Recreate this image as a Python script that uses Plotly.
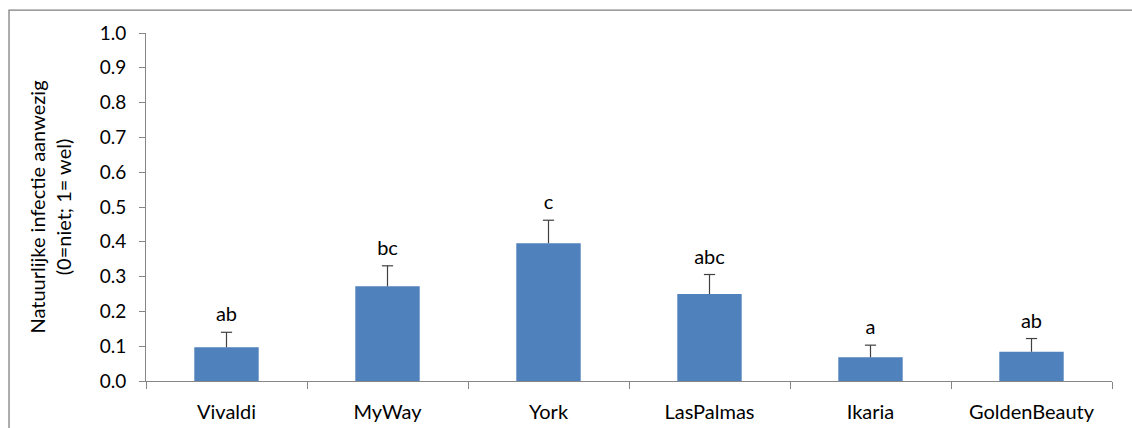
import plotly.graph_objects as go

# Cultivars, mean infection score and standard error, significance letters
cultivars = ["Vivaldi", "MyWay", "York", "LasPalmas", "Ikaria", "GoldenBeauty"]
mean_infection = [0.097, 0.272, 0.396, 0.250, 0.068, 0.084]
std_error = [0.043, 0.059, 0.066, 0.056, 0.035, 0.038]
letters = ["ab", "bc", "c", "abc", "a", "ab"]

FONT = "Lato"
AXIS_GREY = "#868686"
ERR_COLOR = "#404040"

upper = [m + s for m, s in zip(mean_infection, std_error)]

fig = go.Figure()
fig.add_trace(go.Bar(
    x=cultivars,
    y=mean_infection,
    width=0.4,
    marker=dict(color="#4F81BD", line=dict(width=0)),
    hoverinfo="skip",
))

# Upper-only error bars: vertical stem from the bar top plus a cap
stem_x, stem_y = [], []
for c, m, u in zip(cultivars, mean_infection, upper):
    stem_x += [c, c, None]
    stem_y += [m, u, None]
fig.add_trace(go.Scatter(
    x=stem_x, y=stem_y, mode="lines",
    line=dict(color=ERR_COLOR, width=1.2),
    hoverinfo="skip",
))
fig.add_trace(go.Scatter(
    x=cultivars, y=upper, mode="markers+text",
    marker=dict(symbol="line-ew", size=8, line=dict(color=ERR_COLOR, width=1.2)),
    text=letters, textposition="top center",
    textfont=dict(family=FONT, size=20, color="#000000"),
    hoverinfo="skip",
))

# Outer chart frame
fig.add_shape(
    type="rect", xref="paper", yref="paper",
    x0=-0.1418, x1=1.04, y0=-0.2, y1=1.066,
    line=dict(color="#7f7f7f", width=1.3),
    fillcolor="rgba(0,0,0,0)",
)

fig.update_layout(
    width=1132, height=428,
    margin=dict(l=146, r=20, t=33, b=47),
    paper_bgcolor="white", plot_bgcolor="white",
    showlegend=False,
    font=dict(family=FONT, size=20, color="#000000"),
    xaxis=dict(
        showgrid=False, showline=True, linecolor=AXIS_GREY, linewidth=1,
        ticks="outside", tickson="boundaries", ticklen=7, tickcolor=AXIS_GREY,
        tickfont=dict(family=FONT, size=20, color="#000000"),
        ticklabelstandoff=13,
        range=[-0.5, 5.5],
        automargin=False,
    ),
    yaxis=dict(
        range=[0, 1.0], dtick=0.1, tickformat=".1f",
        showgrid=False, zeroline=False, showline=True, linecolor=AXIS_GREY, linewidth=1,
        ticks="outside", ticklen=6, tickcolor=AXIS_GREY,
        tickfont=dict(family=FONT, size=19, color="#000000"),
        ticklabelstandoff=9,
        title=dict(
            text="Natuurlijke infectie aanwezig<br>(0=niet; 1= wel)",
            font=dict(family=FONT, size=20, color="#000000"),
            standoff=22,
        ),
        automargin=False,
    ),
)

fig.write_html("out.html")
